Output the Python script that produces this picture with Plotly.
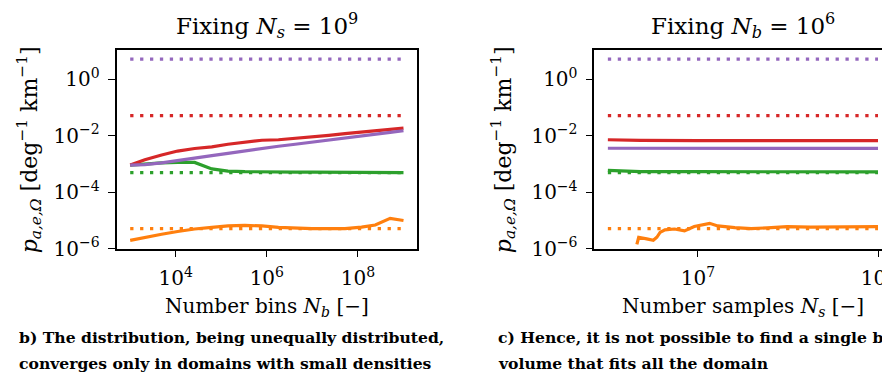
import plotly.graph_objects as go

# ---------------- data ----------------
# Left panel: fixing Ns = 1e9, varying number of bins Nb
nb = [1e3, 2.1e3, 4.9e3, 1.1e4, 2.6e4, 6.2e4, 1.4e5, 3.3e5, 7.8e5, 1.8e6,
      4.2e6, 9.8e6, 2.3e7, 5.2e7, 1.2e8, 2.4e8, 5.1e8, 1e9]
left_red = [9.0e-4, 1.38e-3, 2.04e-3, 2.82e-3, 3.47e-3, 3.98e-3, 4.9e-3, 5.9e-3, 6.8e-3,
            7.1e-3, 7.9e-3, 9.1e-3, 1.02e-2, 1.17e-2, 1.35e-2, 1.51e-2, 1.66e-2, 1.82e-2]
left_purple = [9.0e-4, 9.3e-4, 1.07e-3, 1.32e-3, 1.58e-3, 1.95e-3, 2.34e-3, 2.88e-3, 3.47e-3,
               4.17e-3, 4.9e-3, 5.75e-3, 6.9e-3, 8.1e-3, 9.8e-3, 1.1e-2, 1.29e-2, 1.48e-2]
left_green = [9.0e-4, 1.0e-3, 1.07e-3, 1.12e-3, 1.12e-3, 6.6e-4, 5.5e-4, 5.25e-4, 5.1e-4,
              5.1e-4, 5.1e-4, 5.1e-4, 5.05e-4, 5.0e-4, 5.0e-4, 5.0e-4, 4.9e-4, 4.9e-4]
left_orange = [1.95e-6, 2.5e-6, 3.2e-6, 4.0e-6, 4.9e-6, 5.6e-6, 6.3e-6, 6.6e-6, 6.3e-6,
               5.6e-6, 5.25e-6, 5.1e-6, 5.1e-6, 5.1e-6, 5.75e-6, 6.8e-6, 1.17e-5, 9.8e-6]

# Right panel: fixing Nb = 1e6, varying number of samples Ns
ns = [1e6, 2.3e6, 1e7, 1e8, 1e9]
right_red = [7.1e-3, 6.7e-3, 6.6e-3, 6.6e-3, 6.6e-3]
right_purple = [3.55e-3, 3.55e-3, 3.55e-3, 3.5e-3, 3.5e-3]
right_green = [5.8e-4, 5.3e-4, 5.25e-4, 5.2e-4, 5.2e-4]
ns_orange = [2.1e6, 2.2e6, 2.7e6, 3.2e6, 3.5e6, 3.8e6, 4.3e6, 5.5e6, 7.1e6, 9.1e6,
             1.35e7, 1.66e7, 2.57e7, 3.9e7, 5.9e7, 9.8e7, 1.8e8, 4.2e8, 1e9]
right_orange = [1.41e-6, 2.5e-6, 2.2e-6, 1.95e-6, 2.5e-6, 3.7e-6, 4.6e-6, 4.9e-6, 4.2e-6, 6.0e-6,
                7.8e-6, 6.3e-6, 5.5e-6, 5.1e-6, 5.4e-6, 6.0e-6, 5.75e-6, 5.75e-6, 6.0e-6]

# Reference (expected) densities, dotted lines
ref_purple = 5.1
ref_red = 0.051
ref_green = 4.9e-4
ref_orange = 5.1e-6

x_ticks_left = [1e4, 1e6, 1e8]
x_ticktext_left = ["10<sup>4</sup>", "10<sup>6</sup>", "10<sup>8</sup>"]
x_ticks_right = [1e7, 1e9]
x_ticktext_right = ["10<sup>7</sup>", "10<sup>9</sup>"]
y_ticks = [1e-6, 1e-4, 1e-2, 1e0]
y_ticktext = ["10<sup>−6</sup>", "10<sup>−4</sup>", "10<sup>−2</sup>", "10<sup>0</sup>"]

# ---------------- styling ----------------
C_PURPLE = "#9467bd"
C_RED = "#d62728"
C_GREEN = "#2ca02c"
C_ORANGE = "#ff7f0e"
FONT = "DejaVu Serif"
W, H = 890, 383
LW = 3.2
DOT = "3.3px,6.6px"

fig = go.Figure()


def add_panel(xa, ya, xs, red, purple, green, xo, orange):
    x0, x1 = xs[0], xs[-1]
    for val, col in [(ref_purple, C_PURPLE), (ref_red, C_RED), (ref_green, C_GREEN), (ref_orange, C_ORANGE)]:
        fig.add_trace(go.Scatter(x=[x0, x1], y=[val, val], mode="lines", xaxis=xa, yaxis=ya,
                                 line=dict(color=col, width=LW, dash=DOT), showlegend=False,
                                 hoverinfo="skip"))
    for ys, col in [(green, C_GREEN), (red, C_RED), (purple, C_PURPLE)]:
        fig.add_trace(go.Scatter(x=xs, y=ys, mode="lines", xaxis=xa, yaxis=ya,
                                 line=dict(color=col, width=LW), showlegend=False))
    fig.add_trace(go.Scatter(x=xo, y=orange, mode="lines", xaxis=xa, yaxis=ya,
                             line=dict(color=C_ORANGE, width=LW), showlegend=False))


add_panel("x", "y", nb, left_red, left_purple, left_green, nb, left_orange)
add_panel("x2", "y2", ns, right_red, right_purple, right_green, ns_orange, right_orange)

ydom = [(H - 248.3) / H, (H - 43.3) / H]
xdom1 = [109 / W, 411 / W]
xdom2 = [589 / W, 887.5 / W]

axis_common = dict(type="log", showgrid=False, zeroline=False, showline=True, mirror=True,
                   linecolor="black", linewidth=1.7, ticks="outside", ticklen=7, tickwidth=1.3,
                   tickcolor="black", ticklabeloverflow="allow", ticklabelstandoff=4,
                   tickfont=dict(family=FONT, size=20, color="black"))

fig.update_layout(
    width=W, height=H,
    margin=dict(l=0, r=0, t=0, b=0),
    paper_bgcolor="white", plot_bgcolor="white",
    font=dict(family=FONT, color="black"),
    xaxis=dict(domain=xdom1, range=[2.7, 9.3], tickvals=x_ticks_left, ticktext=x_ticktext_left,
               anchor="y", **axis_common),
    yaxis=dict(domain=ydom, range=[-6.0, 1.03], tickvals=y_ticks, ticktext=y_ticktext,
               anchor="x", **axis_common),
    xaxis2=dict(domain=xdom2, range=[5.85, 9.15], tickvals=x_ticks_right, ticktext=x_ticktext_right,
                anchor="y2", **axis_common),
    yaxis2=dict(domain=ydom, range=[-6.0, 1.03], tickvals=y_ticks, ticktext=y_ticktext,
                anchor="x2", **axis_common),
)

ylabel = "<i>p</i><sub><i>a,e,Ω</i></sub> [deg<sup>−1</sup> km<sup>−1</sup>]"
ann = [
    dict(text="Fixing <i>N<sub>s</sub></i> = 10<sup>9</sup>", x=260 / W, y=1 - 18 / H,
         font=dict(size=23)),
    dict(text="Fixing <i>N<sub>b</sub></i> = 10<sup>6</sup>", x=738 / W, y=1 - 18 / H,
         font=dict(size=23)),
    dict(text="Number bins <i>N<sub>b</sub></i> [−]", x=260 / W, y=1 - 309 / H,
         font=dict(size=20)),
    dict(text="Number samples <i>N<sub>s</sub></i> [−]", x=738 / W, y=1 - 309 / H,
         font=dict(size=20)),
    dict(text=ylabel, x=22 / W, y=1 - 146 / H, textangle=-90, font=dict(size=22)),
    dict(text=ylabel, x=498 / W, y=1 - 146 / H, textangle=-90, font=dict(size=22)),
    dict(text="<b>b) The distribution, being unequally distributed,</b>", x=9 / W, y=1 - 340 / H,
         xanchor="left", font=dict(size=15.6)),
    dict(text="<b>converges only in domains with small densities</b>", x=9 / W, y=1 - 367 / H,
         xanchor="left", font=dict(size=15.6)),
    dict(text="<b>c) Hence, it is not possible to find a single bin</b>", x=490 / W, y=1 - 340 / H,
         xanchor="left", font=dict(size=15.6)),
    dict(text="<b>volume that fits all the domain</b>", x=490 / W, y=1 - 367 / H,
         xanchor="left", font=dict(size=15.6)),
]
for a in ann:
    a.setdefault("xanchor", "center")
    a.update(xref="paper", yref="paper", yanchor="middle", showarrow=False)
    a["font"] = dict(family=FONT, color="black", **a["font"])
fig.update_layout(annotations=ann)

fig.write_html("out.html")
